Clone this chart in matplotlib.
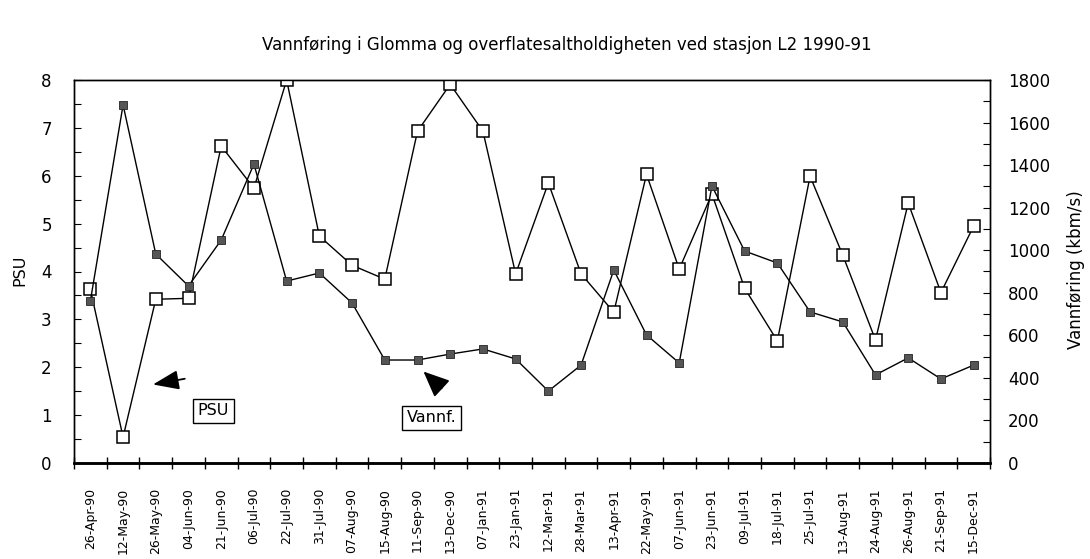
import matplotlib
matplotlib.use("Agg")
import matplotlib.pyplot as plt
import numpy as np

dates = ["26-Apr-90", "12-May-90", "26-May-90", "04-Jun-90", "21-Jun-90", "06-Jul-90",
         "22-Jul-90", "31-Jul-90", "07-Aug-90", "15-Aug-90", "11-Sep-90", "13-Dec-90",
         "07-Jan-91", "23-Jan-91", "12-Mar-91", "28-Mar-91", "13-Apr-91", "22-May-91",
         "07-Jun-91", "23-Jun-91", "09-Jul-91", "18-Jul-91", "25-Jul-91", "13-Aug-91",
         "24-Aug-91", "26-Aug-91", "21-Sep-91", "15-Dec-91"]

psu = [3.63, 0.54, 3.42, 3.44, 6.62, 5.74, 8.0, 4.74, 4.13, 3.84, 6.93, 7.91,
       6.93, 3.95, 5.85, 3.95, 3.15, 6.03, 4.05, 5.62, 3.65, 2.55, 5.99, 4.34,
       2.57, 5.43, 3.56, 4.95]

vannf = [761, 1683, 982, 832, 1048, 1405, 855, 893, 752, 484, 484, 512,
         536, 489, 338, 460, 907, 602, 470, 1302, 996, 940, 710, 663,
         414, 494, 395, 460]

plt.rcParams['font.family'] = ['DejaVu Sans']

fig = plt.figure(figsize=(10.9, 5.59), dpi=100)
ax = fig.add_axes([74/1090, 1-463/559, (990-74)/1090, (463-80)/559])
ax2 = ax.twinx()

x = np.arange(len(dates))
ax.plot(x, psu, color='black', lw=1.0, marker='s', markersize=8.5,
        markerfacecolor='white', markeredgecolor='black', markeredgewidth=1.1, zorder=3)
ax2.plot(x, vannf, color='black', lw=1.0, marker='s', markersize=5.5,
         markerfacecolor='#555555', markeredgecolor='#222222', markeredgewidth=0.6, zorder=3)

ax.set_xlim(-0.5, len(dates) - 0.5)
ax.set_ylim(0, 8)
ax2.set_ylim(0, 1800)

ax.set_xticks(x)
ax.set_xticklabels(dates, rotation=90, fontsize=9)
ax.tick_params(axis='x', which='major', length=0, pad=18)
ax.set_xticks(np.arange(-0.5, len(dates), 1.0), minor=True)
ax.tick_params(axis='x', which='minor', direction='inout', length=8, width=1)

ax.set_yticks(np.arange(0, 9, 1))
ax.set_yticks(np.arange(0, 8.01, 0.5), minor=True)
ax.tick_params(axis='y', which='both', direction='in', length=5, width=0.8, labelsize=12, pad=16)

ax2.set_yticks(np.arange(0, 1801, 200))
ax2.set_yticks(np.arange(0, 1801, 100), minor=True)
ax2.tick_params(axis='y', which='both', direction='in', length=5, width=0.8, labelsize=12, pad=13)

for a in (ax, ax2):
    for s in a.spines.values():
        s.set_linewidth(1.0)
    a.spines['bottom'].set_linewidth(1.8)

fig.text(567/1090, 1-45/559, "Vannføring i Glomma og overflatesaltholdigheten ved stasjon L2 1990-91",
         ha='center', va='center', fontsize=12)
fig.text(20/1090, 1-270/559, "PSU", rotation=90, ha='center', va='center', fontsize=11.5)
fig.text(1076/1090, 1-270/559, "Vannføring (kbm/s)", rotation=90, ha='center', va='center', fontsize=12)

# annotations
ax.annotate("", xy=(1.83, 1.63), xytext=(2.97, 1.77),
            arrowprops=dict(arrowstyle='-|>,head_length=1.6,head_width=0.6', color='black', lw=1.3))
ax.text(3.76, 1.09, "PSU", ha='center', va='center', fontsize=11.5,
        bbox=dict(boxstyle='square,pad=0.3', facecolor='white', edgecolor='black', lw=1.0))
ax.annotate("", xy=(10.12, 1.95), xytext=(10.8, 1.52),
            arrowprops=dict(arrowstyle='-|>,head_length=1.6,head_width=0.7', color='black', lw=1.3))
ax.text(10.43, 0.94, "Vannf.", ha='center', va='center', fontsize=11.5,
        bbox=dict(boxstyle='square,pad=0.3', facecolor='white', edgecolor='black', lw=1.0))

fig.savefig("out.png", dpi=100)
